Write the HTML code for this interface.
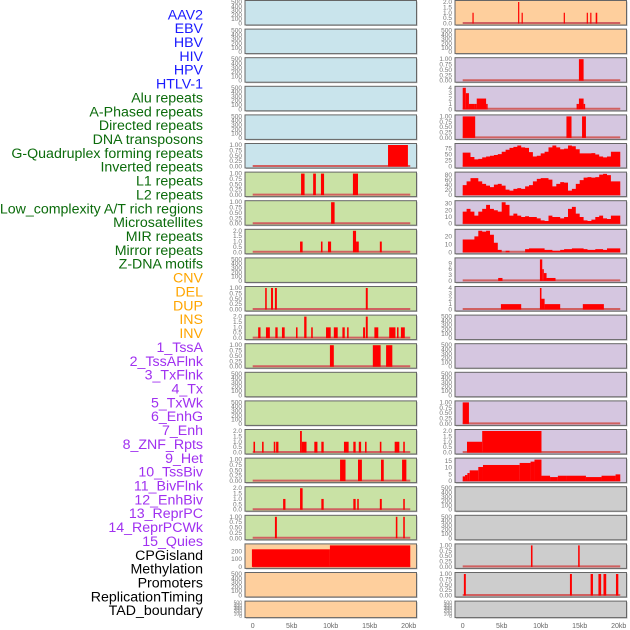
<!DOCTYPE html>
<html><head><meta charset="utf-8"><style>
body{margin:0;background:#fff;}
svg{display:block;font-family:"Liberation Sans",sans-serif;}
</style></head><body>
<svg id="chart" width="630" height="630" viewBox="0 0 630 630"></svg>
<script>
// ---- data ----
const labels = ["AAV2","EBV","HBV","HIV","HPV","HTLV-1","Alu repeats","A-Phased repeats","Directed repeats","DNA transposons","G-Quadruplex forming repeats","Inverted repeats","L1 repeats","L2 repeats","Low_complexity A/T rich regions","Microsatellites","MIR repeats","Mirror repeats","Z-DNA motifs","CNV","DEL","DUP","INS","INV","1_TssA","2_TssAFlnk","3_TxFlnk","4_Tx","5_TxWk","6_EnhG","7_Enh","8_ZNF_Rpts","9_Het","10_TssBiv","11_BivFlnk","12_EnhBiv","13_ReprPC","14_ReprPCWk","15_Quies","CPGisland","Methylation","Promoters","ReplicationTiming","TAD_boundary"];
const labelGroups = [6,13,5,15,5];
const xTickLabels = ["0","5kb","10kb","15kb","20kb"];
const xTickValues = [0,5,10,15,20];

const L5 = [[17.35,19.9,1]];
const L6 = [[6.2,6.65,1],[7.75,8.1,1],[8.75,9.15,1],[12.85,13.5,1]];
const L7 = [[10.05,10.5,1]];
const L8 = [[6.07,6.4,1],[8.75,8.95,1],[9.65,10.05,1],[12.85,13.25,2],[13.25,13.6,1],[16.3,16.55,1]];
const L10 = [[1.6,1.8,1],[2.35,2.6,1],[2.85,3.1,1],[14.5,14.75,1]];
const L11 = [[0.7,1,1],[1.7,2.2,1],[2.9,3.2,1],[3.75,4.1,1],[5.55,5.75,1],[6.6,6.9,2],[7.5,7.7,1],[9.4,10,1],[10.4,10.9,1],[11.5,11.8,1],[12.1,12.3,1],[14.15,14.4,1],[14.5,14.75,2],[15.6,16.1,1],[17.5,18.3,1],[18.5,18.7,1],[19,19.5,1]];
const L12 = [[9.9,10.4,1],[15.4,16.4,1],[17.1,17.9,1]];
const L15 = [[0.1,0.3,1],[1.2,1.4,1],[2.7,2.9,1],[3,3.3,1],[6.07,6.3,2],[6.3,6.9,1],[7.9,8.3,1],[8.8,9.1,1],[11.7,12.3,1],[12.9,13.2,1],[13.6,13.9,1],[14.4,14.6,1],[16.3,16.5,1],[18.2,18.8,1],[19.3,19.5,1]];
const L16 = [[11.2,11.9,1],[13.5,14,1],[16.45,16.8,1],[19.15,19.7,1]];
const L17 = [[3.9,4.2,1],[6.07,6.4,2],[8.8,9.1,1],[12.9,13.2,1],[13.4,13.6,1],[16.3,16.55,1],[19.3,19.5,1]];
const L18 = [[2.85,3.1,1],[18.35,18.55,1],[19.3,19.5,1]];
const L19 = [[-0.1,9.9,225],[9.9,20.2,275]];

const R0 = [[1.25,1.4,1],[7.1,7.2,2],[7.55,7.7,1],[12.95,13.1,1],[15.9,16.05,1],[16.35,16.5,1],[17.05,17.25,1]];
const R2 = [[14.9,15.5,1]];
const R3 = [[0,0.4,4],[0.4,0.8,3],[0.8,1.5,1],[1.5,1.8,1],[1.8,3,2],[3,3.2,1],[14.6,14.9,1],[14.9,15.5,2],[15.5,15.7,1]];
const R4 = [[0,1.6,1],[13.3,13.95,1],[15.3,15.8,1]];
const R5 = [58,58,40,30,32,38,42,45,48,52,62,70,78,82,88,80,78,60,42,45,55,62,80,88,80,72,75,88,85,72,55,55,55,56,50,42,38,42,62,62];
const R6 = [40,55,68,68,55,45,38,32,42,45,38,22,18,25,28,25,35,40,55,65,68,68,62,35,45,52,50,18,25,45,60,70,72,70,72,82,85,80,55,55];
const R7 = [18,22,18,12,18,22,28,22,20,18,32,28,12,15,12,10,11,10,10,8,5,4,12,10,10,8,10,22,25,15,10,5,4,6,10,12,8,7,12,12];
const R8 = [16,16,16,20,27,26,27,22,12,3,0,2,0,0,0,0,4,5,5,5,5,3,3,2,2,3,4,4,5,5,5,4,3,3,4,4,3,5,5,5];
const R9 = [[4.55,5.1,1.5],[9.9,10.2,11],[10.2,10.4,6],[10.4,10.75,4],[10.75,11.9,1.5]];
const R10 = [[4.9,7.5,1],[9.9,10.1,4],[10.1,10.5,2],[10.5,12.5,1],[15.4,18.1,1]];
const R14 = [[0,0.8,1]];
const R15 = [[0.55,2.5,1],[2.5,10.1,2]];
const R16 = [[0,0.3,3.5],[0.3,0.6,4.5],[0.6,0.9,6],[0.9,2,8],[2,2.6,10.5],[2.6,7.3,12],[7.3,8.7,13.5],[8.7,9.2,14.5],[9.2,10.1,16],[10.1,11.2,4],[11.2,12.2,3],[12.2,13.3,4],[13.3,15.8,4],[15.8,17.8,3],[17.8,19.6,4],[19.6,20.2,5]];
const R19 = [[8.75,8.95,1],[14.8,15,1]];
const R20 = [[0.15,0.4,1],[13.75,14,1],[16.4,16.7,1],[17.4,17.75,1],[18.05,18.4,1],[19.65,19.95,1]];

// ---- layout config ----
const T500 = [0,100,200,300,400,500], T1 = [0,0.25,0.5,0.75,1], T2 = [0,0.5,1,1.5,2];
const BLUE="#c9e4ec", GREEN="#c9e2a5", ORANGE="#fecf9d", PURPLE="#d5c6e0", GREY="#cdcdcd";
const left = [];
for (let i=0;i<22;i++){ left.push({bg: i<6?BLUE:(i<19?GREEN:ORANGE), segs:null, ticks:T500, fmt:0, ymax:500}); }
const right = [];
for (let i=0;i<22;i++){ right.push({bg: i<2?ORANGE:(i<17?PURPLE:GREY), segs:null, ticks:T500, fmt:0, ymax:500}); }
function set(a,i,segs,ticks,fmt,ymax,bins){ Object.assign(a[i],{segs,ticks,fmt,ymax,bins}); }
set(left,5,L5,T1,2,1); set(left,6,L6,T1,2,1); set(left,7,L7,T1,2,1); set(left,8,L8,T2,1,2);
set(left,10,L10,T1,2,1); set(left,11,L11,T2,1,2); set(left,12,L12,T1,2,1);
set(left,15,L15,T2,1,2); set(left,16,L16,T1,2,1); set(left,17,L17,T2,1,2); set(left,18,L18,T1,2,1);
set(left,19,L19,[0,100,200],0,275);
set(right,0,R0,T2,1,2); set(right,2,R2,T1,2,1); set(right,3,R3,[0,1,2,3,4],0,4); set(right,4,R4,T1,2,1);
set(right,5,null,[0,25,50,75],0,90,R5); set(right,6,null,[0,20,40,60,80],0,86,R6);
set(right,7,null,[0,10,20,30],0,32,R7); set(right,8,null,[0,10,20],0,27,R8);
set(right,9,R9,[0,3,6,9],0,11); set(right,10,R10,[0,1,2,3,4],0,4); set(right,14,R14,T1,2,1);
set(right,15,R15,T2,1,2); set(right,16,R16,[0,5,10,15],0,16); set(right,19,R19,T1,2,1); set(right,20,R20,T1,2,1);

// ---- draw ----
const NS="http://www.w3.org/2000/svg";
const svg=document.getElementById('chart');
function mk(tag,attrs,parent){const e=document.createElementNS(NS,tag);for(const k in attrs)e.setAttribute(k,attrs[k]);(parent||svg).appendChild(e);return e;}
const groupColors=["#1a1aff","#0b6b0b","#ffa500","#a030f0","#000000"];
let gi=0,cnt=0;
labels.forEach((t,i)=>{
  while(cnt>=labelGroups[gi]){cnt=0;gi++;}
  cnt++;
  const e=mk('text',{x:203,y:15.5+13.86*i,'text-anchor':'end','dominant-baseline':'middle','font-size':14.2,fill:groupColors[gi]});
  e.textContent=t;
  
  
});
function drawPanel(p,i,side){
  const px = side==='L'?245:455, pw=171.5;
  const x0 = side==='L'?252.7:462.7, k=7.8;
  const top=0.5+28.6*i, h = i===21?16.5:24.5;
  const g=mk('g',{});
  
  
  mk('rect',{x:px+1,y:top+1,width:pw,height:h,fill:'#bbb'},g);
  mk('rect',{x:px,y:top,width:pw,height:h,fill:p.bg,stroke:'#666','stroke-width':1},g);
  const bot=top+h-1.5, ph=h-3;
  const xs=v=>x0+v*k, ys=v=>bot-v/p.ymax*ph;
  p.ticks.forEach(v=>{
    const tt=mk('text',{x:px-3,y:ys(v)+2,'text-anchor':'end','font-size':i===21?5:6.5,fill:'#777'},g);
    tt.textContent=p.fmt?v.toFixed(p.fmt):String(v);
  });
  if(p.segs||p.bins){
    mk('line',{x1:xs(0),x2:xs(20.2),y1:bot-0.5,y2:bot-0.5,stroke:'#d06060','stroke-width':2},g);
  }
  if(p.segs){
    p.segs.forEach(s=>{
      const r=mk('rect',{x:xs(s[0]),y:ys(s[2]),width:Math.max(1.2,xs(s[1])-xs(s[0])),height:bot-ys(s[2]),fill:'#ff0000'},g);
      
      
    });
  }
  if(p.bins){
    let d='M'+xs(0)+','+bot;
    p.bins.forEach((v,j)=>{const a=j*0.5,b=j===p.bins.length-1?20.2:(j+1)*0.5;d+=' L'+xs(a)+','+ys(v)+' L'+xs(b)+','+ys(v);});
    d+=' L'+xs(20.2)+','+bot+' Z';
    const a=mk('path',{d:d,fill:'#ff0000'},g);
    
    
  }
}
left.forEach((p,i)=>drawPanel(p,i,'L'));
right.forEach((p,i)=>drawPanel(p,i,'R'));
['L','R'].forEach(side=>{
  const x0=side==='L'?252.7:462.7;
  xTickValues.forEach((v,j)=>{
    const t=mk('text',{x:x0+v*7.8,y:628,'text-anchor':'middle','font-size':7,fill:'#666'});
    t.textContent=xTickLabels[j];
    
    
  });
});
</script>
</body></html>
